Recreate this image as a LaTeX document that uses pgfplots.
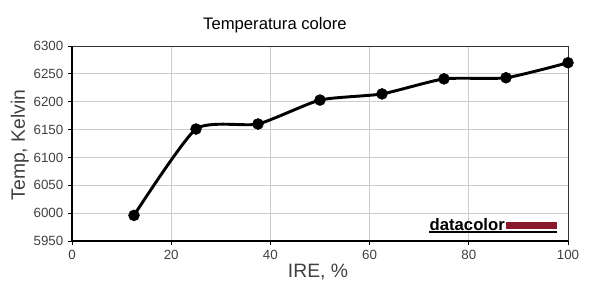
\documentclass[border=0pt]{standalone}
\usepackage{pgfplots}
\pgfplotsset{compat=1.18}
\usepackage{fontspec}
\setmainfont{Liberation Sans}

\definecolor{gridgray}{RGB}{204,204,204}
\definecolor{labelgray}{RGB}{64,64,64}
\definecolor{logored}{RGB}{138,24,44}

\begin{document}
\begin{tikzpicture}
\path[use as bounding box] (0,0) rectangle (450pt,228.75pt);

\begin{axis}[
  at={(54pt,48pt)}, anchor=south west,
  scale only axis,
  width=372pt, height=146.25pt,
  xmin=0, xmax=100, ymin=5950, ymax=6300,
  xtick={0,20,40,60,80,100},
  ytick={5950,6000,6050,6100,6150,6200,6250,6300},
  grid=major,
  grid style={gridgray, line width=0.75pt},
  axis line style={draw=none},
  tick align=outside, tick pos=left,
  major tick length=3pt,
  tick style={black, line width=0.75pt},
  ticklabel style={font=\fontsize{10}{11}\selectfont, text=labelgray},
  /pgf/number format/assume math mode=true,
  /pgf/number format/1000 sep={},
  clip=false,
]
% frame: thin top/right, thick left/bottom
\draw[black!80, line width=0.75pt] (rel axis cs:0,1) -- (rel axis cs:1,1) -- (rel axis cs:1,0);
\draw[black, line width=2.2pt] (rel axis cs:0,1) -- (rel axis cs:0,0) -- (rel axis cs:1,0);

\addplot[black, line width=2.2pt, smooth, tension=0.35,
  mark=*, mark size=4.1pt, mark options={fill=black, line width=0.4pt}]
  coordinates {
  (12.5,5996) (25,6151) (37.5,6160) (50,6203)
  (62.5,6214) (75,6241) (87.5,6243) (100,6270)
};

% datacolor logo
\fill[logored] (axis cs:87.4,5971.5) rectangle (axis cs:97.8,5984);
\draw[black, line width=1.5pt] (axis cs:72.0,5966) -- (axis cs:97.8,5966);
\node[anchor=base east, inner sep=0pt, font=\fontsize{12.5}{13}\selectfont\bfseries]
  at (axis cs:87.3,5969.5) {datacolor};
\end{axis}

\node[font=\fontsize{12.5}{14}\selectfont] at (206.25pt,210pt) {Temperatura colore};
\node[font=\fontsize{14.5}{16}\selectfont, text=labelgray] at (238.5pt,24.75pt) {IRE, \%};
\node[font=\fontsize{14.5}{16}\selectfont, text=labelgray, rotate=90] at (15pt,120pt) {Temp, Kelvin};
\end{tikzpicture}
\end{document}
